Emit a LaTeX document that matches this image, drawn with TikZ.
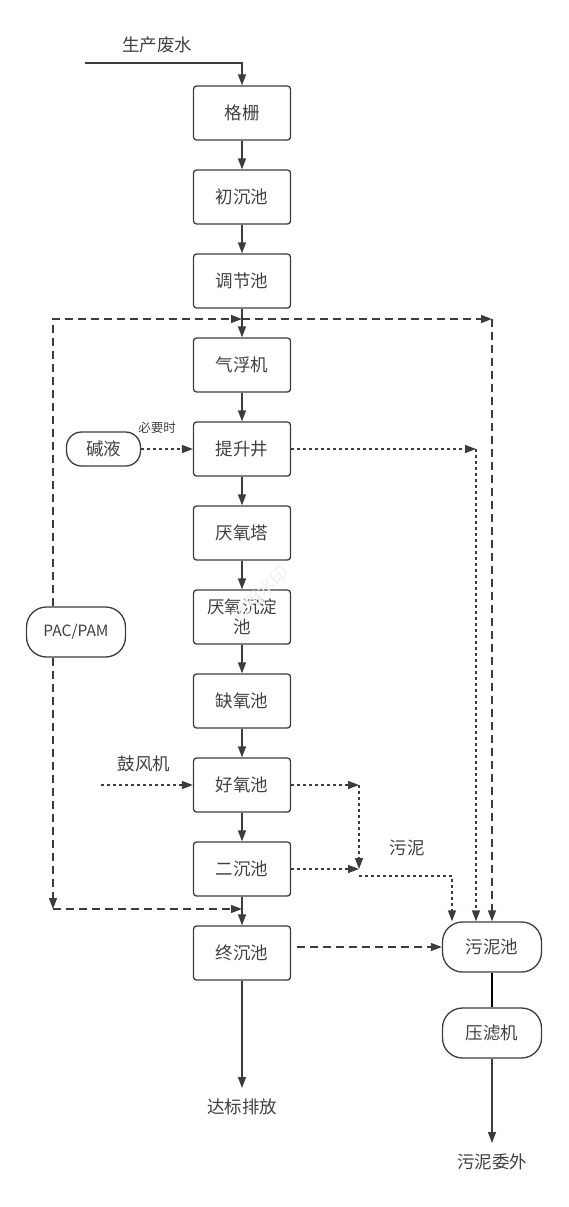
\documentclass[tikz,border=0pt]{standalone}
\usepackage{fontspec}
\setmainfont{Noto Sans CJK SC}
\usetikzlibrary{arrows.meta}
\definecolor{linegray}{HTML}{3C3C3C}
\definecolor{txtgray}{HTML}{404040}

\begin{document}
\begin{tikzpicture}[x=1pt, y=-1pt,
    box/.style={draw=linegray, line width=1.3pt, rounded corners=3pt, minimum width=97pt, minimum height=54pt,
        inner sep=1pt, align=center, text=txtgray, font=\fontsize{17.5}{20}\selectfont},
    pill/.style={box, rounded corners=20pt, minimum width=99pt, minimum height=50pt},
    lbl/.style={text=txtgray, inner sep=0pt, font=\fontsize{17.5}{20}\selectfont},
    flow/.style={draw=linegray, line width=1.3pt, -{Triangle[length=11pt, width=8pt]}},
    dashflow/.style={flow, dash pattern=on 8pt off 5pt},
    dotflow/.style={flow, dash pattern=on 3pt off 3pt}]
    \useasboundingbox (0,0) rectangle (568,1207);

    % 1. Main treatment column
    \foreach \n/\t [count=\i from 0] in {gs/格栅, cc/初沉池, tj/调节池, qf/气浮机, ts/提升井, yy/厌氧塔,
        yc/厌氧沉淀\\池, qy/缺氧池, hy/好氧池, ec/二沉池, zc/终沉池} {
        \node[box] (\n) at (242, 113+84*\i) {\t};
    }
    \foreach \a/\b in {gs/cc, cc/tj, tj/qf, qf/ts, ts/yy, yy/yc, yc/qy, qy/hy, hy/ec, ec/zc} {
        \draw[flow] (\a) -- (\b);
    }

    % 2. Side nodes
    \node[pill, font=\fontsize{15.5}{18}\selectfont] (pac) at (76, 632) {PAC/PAM};
    \node[pill, rounded corners=15pt, minimum width=74pt, minimum height=34pt] (jy) at (103.5, 449) {碱液};
    \node[pill] (wnc) at (492, 947) {污泥池};
    \node[pill] (ylj) at (492, 1033) {压滤机};

    % 3. Labels
    \node[lbl] (fs) at (157, 45) {生产废水};
    \node[lbl, font=\fontsize{12.5}{14}\selectfont] (byd) at (157, 428) {必要时};
    \node[lbl] (gfj) at (144, 764) {鼓风机};
    \node[lbl] (wn) at (407, 848) {污泥};
    \node[lbl] (dbpf) at (242, 1107) {达标排放};
    \node[lbl] (wnww) at (492, 1162) {污泥委外};
    \node[rotate=45, text=gray!12, font=\fontsize{18}{20}\selectfont] (wm) at (260, 594) {试用水印};

    % 4. Helper points
    \coordinate (in) at (85, 63);
    \coordinate (tl) at (53, 319);
    \coordinate (tm) at (242, 319);
    \coordinate (tr) at (492, 319);
    \coordinate (bl) at (53, 909);
    \coordinate (bm) at (242, 909);
    \coordinate (tsr) at (476, 449);
    \coordinate (fan) at (101, 785);
    \coordinate (hyr) at (359, 785);
    \coordinate (ecr) at (359, 869);
    \coordinate (snk) at (359, 876);
    \coordinate (snr) at (452, 876);
    \coordinate (zcr) at (297, 947);
    \coordinate (out) at (242, 1088);
    \coordinate (away) at (492, 1143);

    % 5. Connectors
    \draw[flow] (in) -| (gs.north);
    \draw[dashflow] (pac.north -| tl) -- (tl) -- (tm);
    \draw[dashflow] (tm) -- (tr);
    \draw[dashflow] (tr) -- (wnc.north);
    \draw[dashflow] (pac.south -| bl) -- (bl);
    \draw[dashflow] (bl) -- (bm);
    \draw[dotflow] (jy) -- (ts);
    \draw[dotflow] (ts) -- (tsr);
    \draw[dotflow] (tsr) -- (tsr |- wnc.north);
    \draw[dotflow] (fan) -- (hy);
    \draw[dotflow] (hy) -- (hyr);
    \draw[dotflow] (hyr) -- (ecr);
    \draw[dotflow] (ec) -- (ecr);
    \draw[dotflow] (snk) -- (snr) -- (snr |- wnc.north);
    \draw[dashflow] (zcr) -- (wnc.west);
    \draw[line width=1.5pt] (wnc) -- (ylj);
    \draw[flow] (ylj) -- (away);
    \draw[flow] (zc) -- (out);
\end{tikzpicture}
\end{document}
